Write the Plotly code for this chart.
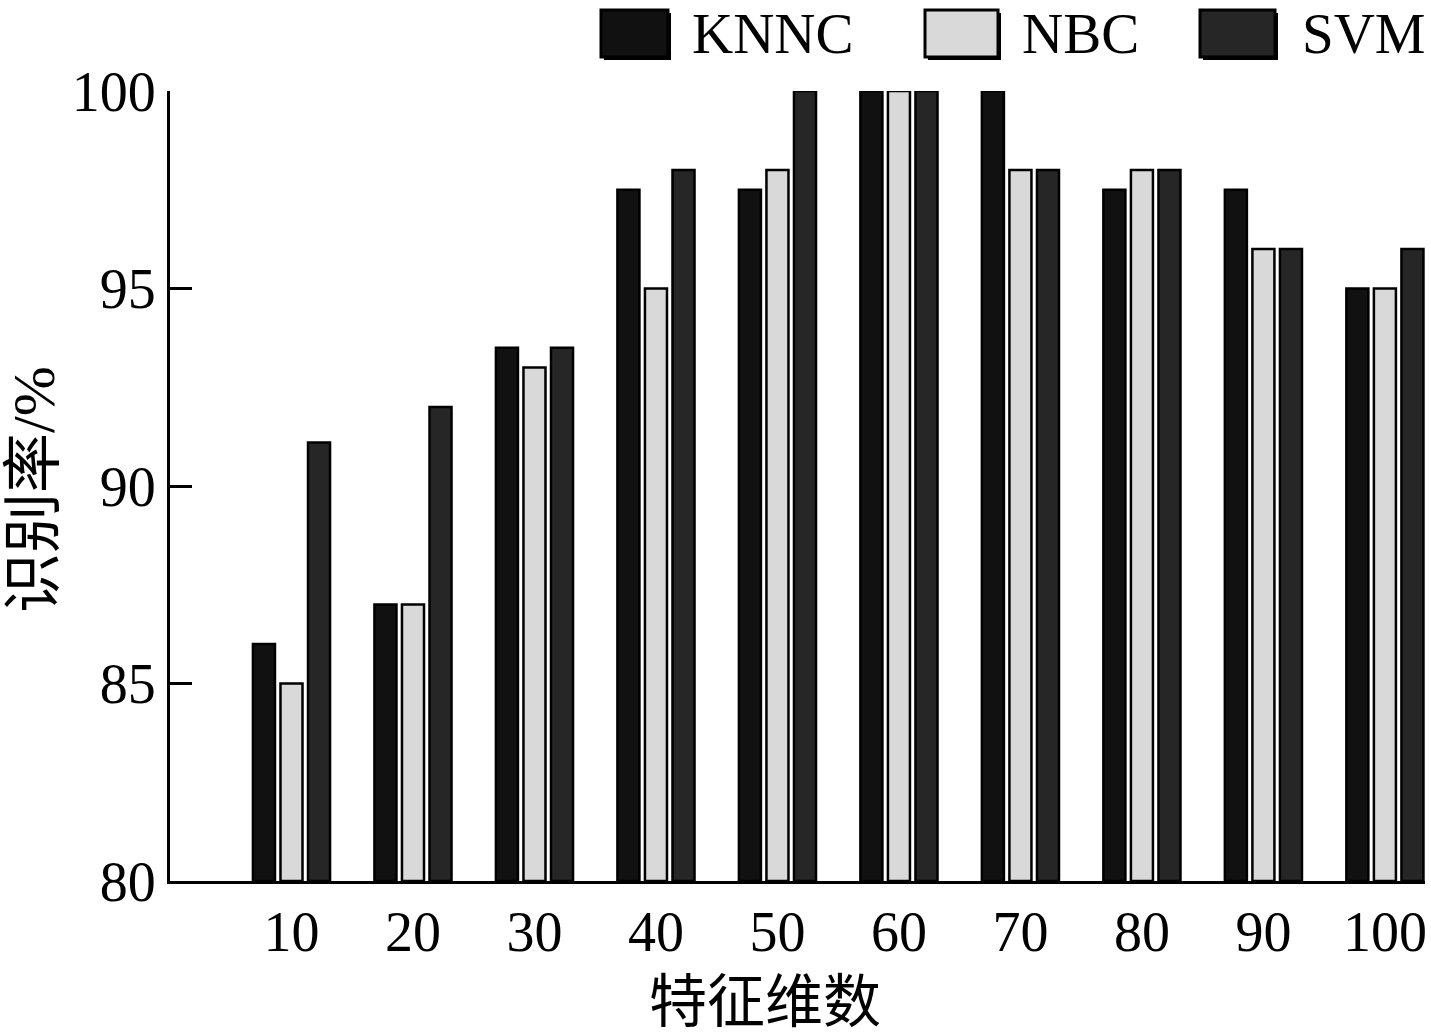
import plotly.graph_objects as go

dims = [10, 20, 30, 40, 50, 60, 70, 80, 90, 100]
knnc = [86.0, 87.0, 93.5, 97.5, 97.5, 100, 100, 97.5, 97.5, 95.0]
nbc = [85.0, 87.0, 93.0, 95.0, 98.0, 100, 98.0, 98.0, 96.0, 95.0]
svm = [91.1, 92.0, 93.5, 98.0, 100, 100, 98.0, 98.0, 96.0, 96.0]
series_names = ["KNNC", "NBC", "SVM"]
colors = ["#111111", "#d9d9d9", "#262626"]
y_ticks = [80, 85, 90, 95, 100]

serif = "Liberation Serif, Noto Sans CJK SC, serif"

W, H = 1431, 1036
ML, MR, MT, MB = 170, 6, 91, 155
PW, PH = W - ML - MR, H - MT - MB


def px_x(p):
    return (p - ML) / PW


def px_y(p):
    return (H - MB - p) / PH


fig = go.Figure()
for name, vals, col in zip(series_names, [knnc, nbc, svm], colors):
    fig.add_trace(go.Bar(
        x=dims, y=[v - 80 for v in vals], base=80, name=name,
        marker=dict(color=col, line=dict(color="black", width=2.5)),
        showlegend=False,
    ))

# custom legend (large boxes like the reference)
legend_boxes = [(601, 668), (925, 998), (1200, 1275)]
legend_text_x = [690, 1020, 1300]
shapes = []
annotations = []
for (x0, x1), tx, name, col in zip(legend_boxes, legend_text_x, series_names, colors):
    shapes.append(dict(type="rect", xref="paper", yref="paper",
                       x0=px_x(x0 + 3), x1=px_x(x1 + 3), y0=px_y(60), y1=px_y(13),
                       fillcolor="black", line=dict(width=0), layer="above"))
    shapes.append(dict(type="rect", xref="paper", yref="paper",
                       x0=px_x(x0), x1=px_x(x1), y0=px_y(57), y1=px_y(10),
                       fillcolor=col, line=dict(color="black", width=3), layer="above"))
    annotations.append(dict(text=name, xref="paper", yref="paper",
                            x=px_x(tx), y=px_y(33), xanchor="left", yanchor="middle",
                            showarrow=False, font=dict(size=57, family=serif)))

annotations.append(dict(text="特征维数", xref="paper", yref="paper",
                        x=px_x(765), y=px_y(1002), xanchor="center", yanchor="middle",
                        showarrow=False, font=dict(size=58, family=serif)))
annotations.append(dict(text="识别率/%", xref="paper", yref="paper",
                        x=px_x(34), y=px_y(490), xanchor="center", yanchor="middle",
                        textangle=-90, showarrow=False,
                        font=dict(size=60, family=serif)))

fig.update_layout(
    width=W, height=H,
    margin=dict(l=ML, r=MR, t=MT, b=MB, autoexpand=False),
    paper_bgcolor="white", plot_bgcolor="white",
    barmode="group", bargap=0.32, bargroupgap=0.2,
    font=dict(family=serif, size=56, color="black"),
    showlegend=False,
    shapes=shapes, annotations=annotations,
    xaxis=dict(
        range=[0, 103.3], tickmode="array", tickvals=dims,
        ticktext=[str(d) for d in dims], ticks="", showgrid=False,
        zeroline=False, showline=True, linecolor="black", linewidth=3,
        ticklabelstandoff=0, automargin=False,
    ),
    yaxis=dict(
        range=[80, 100], tickmode="array", tickvals=y_ticks,
        ticks="inside", ticklen=22, tickwidth=3, tickcolor="black",
        showgrid=False, zeroline=False, showline=True, linecolor="black",
        linewidth=3, ticklabelstandoff=0, automargin=False,
    ),
)

fig.write_html("out.html", config={"displayModeBar": False},
               post_script="document.body.style.margin='0';document.body.style.overflow='hidden';")
